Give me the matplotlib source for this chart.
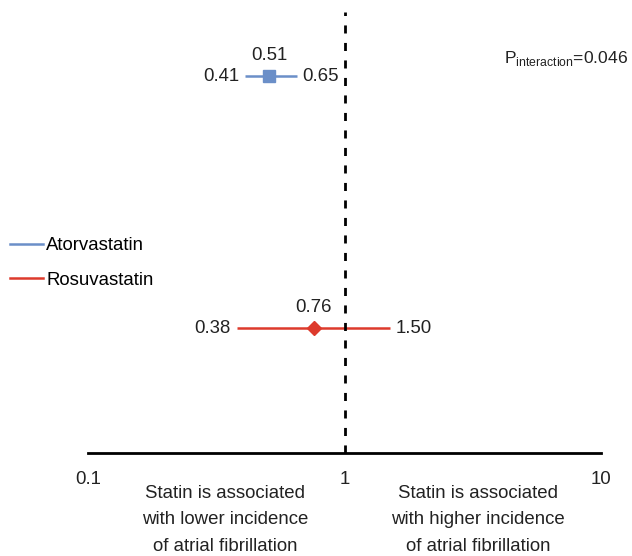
import numpy as np
import matplotlib
matplotlib.use('Agg')
import matplotlib.pyplot as plt
from matplotlib.lines import Line2D

plt.rcParams['font.family'] = ['Liberation Sans', 'DejaVu Sans']

drugs = ['Atorvastatin', 'Rosuvastatin']
estimates = [0.51, 0.76]
lower = [0.41, 0.38]
upper = [0.65, 1.50]
rows = [2, 1]
colors = ['#6b8fc8', '#dd3a2c']
markers = ['s', 'D']
marker_sizes = [9, 7.5]
p_label = r'P$_{\mathregular{interaction}}$=0.046'
tick_values = [0.1, 1, 10]
tick_labels = ['0.1', '1', '10']
left_note = 'Statin is associated\nwith lower incidence\nof atrial fibrillation'
right_note = 'Statin is associated\nwith higher incidence\nof atrial fibrillation'

FS = 13.4
TXT = '#222222'

W, H = 632, 556
fig = plt.figure(figsize=(W / 100, H / 100), dpi=100)
ax = fig.add_axes([88 / W, (H - 453) / H, (601 - 88) / W, (453 - 12) / H])
ax.set_xscale('log')
ax.set_xlim(0.1, 10)
ax.set_ylim(0.504, 2.254)

for i in range(len(drugs)):
    ax.plot([lower[i], upper[i]], [rows[i], rows[i]], color=colors[i], lw=1.8, solid_capstyle='butt', zorder=2)
    ax.plot(estimates[i], rows[i], marker=markers[i], color=colors[i], ms=marker_sizes[i], zorder=3, mec=colors[i])
    ax.annotate(f'{lower[i]:.2f}', (lower[i], rows[i]), xytext=(-6, 0), textcoords='offset pixels',
                ha='right', va='center', fontsize=FS, color=TXT)
    ax.annotate(f'{upper[i]:.2f}', (upper[i], rows[i]), xytext=(6, 0), textcoords='offset pixels',
                ha='left', va='center', fontsize=FS, color=TXT)
    ax.annotate(f'{estimates[i]:.2f}', (estimates[i], rows[i]), xytext=(0, 21), textcoords='offset pixels',
                ha='center', va='center', fontsize=FS, color=TXT)

ax.axvline(1, color='black', lw=2, ls=(0, (2.9, 3.4)), zorder=4)

for s in ['top', 'right', 'left']:
    ax.spines[s].set_visible(False)
ax.spines['bottom'].set_linewidth(2)
ax.set_yticks([])
ax.set_xticks(tick_values)
ax.set_xticklabels(tick_labels, fontsize=FS, color=TXT)
ax.minorticks_off()
ax.tick_params(axis='x', length=0, pad=13)

fig.text(628 / W, 1 - 58 / H, p_label, ha='right', va='center', fontsize=12.6, color=TXT)

handles = [Line2D([], [], color=c, lw=1.8) for c in colors]
fig.legend(handles, drugs, loc='upper left', bbox_to_anchor=(10 / W, 1 - 237 / H), frameon=False,
           fontsize=FS, handlelength=1.75, handletextpad=0.2, labelspacing=0.95, borderpad=0, borderaxespad=0)

fig.text(225 / W, 1 - 520 / H, left_note, ha='center', va='center', fontsize=FS,
         linespacing=1.7, color=TXT)
fig.text(478 / W, 1 - 520 / H, right_note, ha='center', va='center', fontsize=FS,
         linespacing=1.7, color=TXT)

fig.savefig('out.png', dpi=100)
